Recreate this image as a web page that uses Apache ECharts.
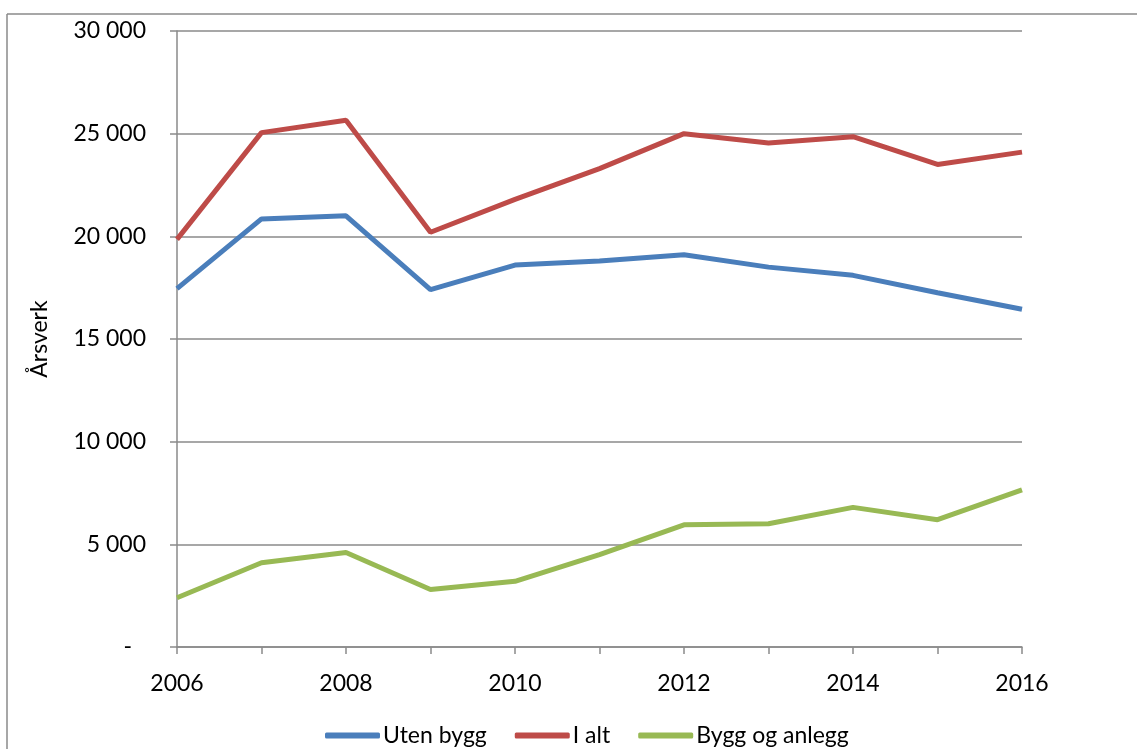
<!DOCTYPE html>
<html>
<head>
<meta charset="utf-8">
<script src="https://cdn.jsdelivr.net/npm/echarts@6/dist/echarts.min.js"></script>
<style>
html,body{margin:0;padding:0;background:#fff;}
#c{width:1137px;height:749px;}
</style>
</head>
<body>
<div id="c"></div>
<script>
const years = ['2006','2007','2008','2009','2010','2011','2012','2013','2014','2015','2016'];
const utenBygg = [17450, 20850, 21000, 17400, 18600, 18800, 19100, 18500, 18100, 17250, 16450];
const iAlt = [19850, 25050, 25650, 20200, 21800, 23300, 25000, 24550, 24850, 23500, 24100];
const byggOgAnlegg = [2400, 4100, 4600, 2800, 3200, 4500, 5950, 6000, 6800, 6200, 7650];
const seriesNames = ['Uten bygg', 'I alt', 'Bygg og anlegg'];
const yTicks = [0, 5000, 10000, 15000, 20000, 25000, 30000];

const FONT = 'Lato';
const FS = 23;
const gray = '#8a8a8a';

function fmt(v) {
  if (v === 0) return '{d|-}';
  return String(v).replace(/\B(?=(\d{3})+(?!\d))/g, ' ');
}

const chart = echarts.init(document.getElementById('c'), null, {renderer: 'canvas'});
chart.setOption({
  animation: false,
  textStyle: {fontFamily: FONT},
  grid: {left: 177, right: 115, top: 31, bottom: 102, containLabel: false},
  graphic: [
    {type: 'line', shape: {x1: 7, y1: 14, x2: 1137, y2: 14}, style: {stroke: gray, lineWidth: 1.5}},
    {type: 'line', shape: {x1: 7, y1: 14, x2: 7, y2: 749}, style: {stroke: gray, lineWidth: 1.5}}
  ],
  legend: {
    bottom: -3,
    left: 320,
    data: seriesNames,
    icon: 'roundRect',
    itemWidth: 55,
    itemHeight: 6,
    itemGap: 28,
    textStyle: {fontFamily: FONT, fontSize: FS, color: '#000', padding: [0, 0, 0, -2]}
  },
  xAxis: {
    type: 'category',
    data: years,
    boundaryGap: false,
    axisLine: {lineStyle: {color: gray, width: 1.5}},
    axisTick: {show: true, interval: 0, length: 7, lineStyle: {color: gray, width: 1.5}},
    axisLabel: {interval: 1, margin: 25, fontFamily: FONT, fontSize: FS, color: '#000'},
    splitLine: {show: false}
  },
  yAxis: {
    type: 'value',
    min: yTicks[0],
    max: yTicks[yTicks.length - 1],
    interval: 5000,
    name: 'Årsverk',
    nameLocation: 'middle',
    nameGap: 126,
    nameTextStyle: {fontFamily: FONT, fontSize: FS, color: '#000'},
    axisLine: {show: true, lineStyle: {color: gray, width: 1.5}},
    axisTick: {show: true, length: 7, lineStyle: {color: gray, width: 1.5}},
    axisLabel: {
      margin: 31, fontFamily: FONT, fontSize: FS, color: '#000',
      formatter: fmt,
      rich: {d: {fontFamily: FONT, fontSize: FS, color: '#000', padding: [0, 14, 0, 0]}}
    },
    splitLine: {show: true, lineStyle: {color: gray, width: 1.5}}
  },
  series: [
    {name: seriesNames[0], type: 'line', data: utenBygg, showSymbol: false, symbol: 'none',
     lineStyle: {color: '#4A7EBB', width: 5}, itemStyle: {color: '#4A7EBB'}},
    {name: seriesNames[1], type: 'line', data: iAlt, showSymbol: false, symbol: 'none',
     lineStyle: {color: '#BE4B48', width: 5}, itemStyle: {color: '#BE4B48'}},
    {name: seriesNames[2], type: 'line', data: byggOgAnlegg, showSymbol: false, symbol: 'none',
     lineStyle: {color: '#98B954', width: 5}, itemStyle: {color: '#98B954'}}
  ]
});
</script>
</body>
</html>
